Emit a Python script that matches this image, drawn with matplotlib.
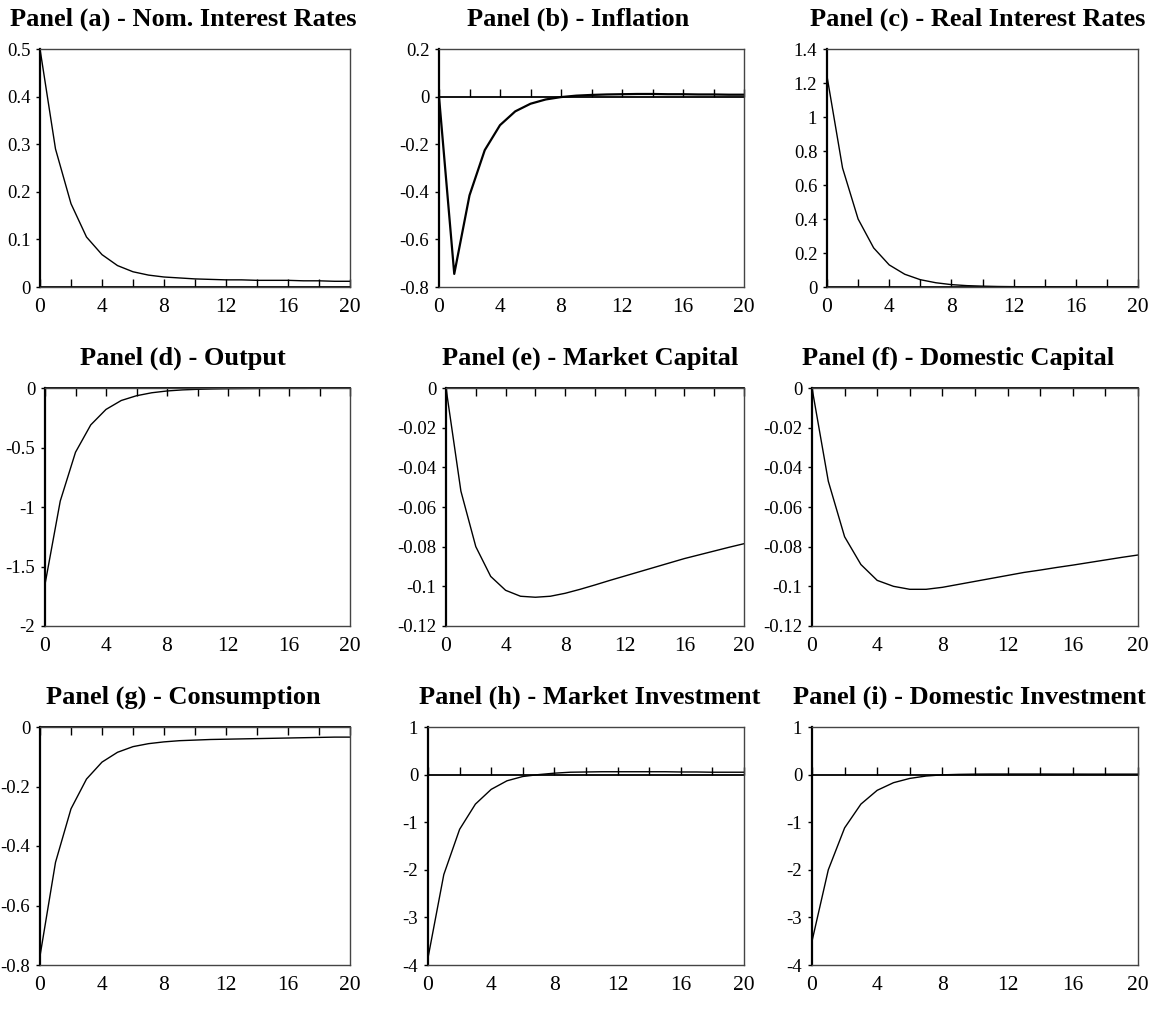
import matplotlib.pyplot as plt
from matplotlib.ticker import FuncFormatter

plt.rcParams['font.family'] = ['Liberation Serif', 'DejaVu Serif']

periods = list(range(21))

nom_rates = [0.5, 0.29, 0.175, 0.105, 0.068, 0.045, 0.032, 0.025, 0.021, 0.019, 0.017,
             0.016, 0.015, 0.015, 0.014, 0.014, 0.014, 0.013, 0.013, 0.012, 0.012]
inflation = [0.0, -0.745, -0.415, -0.225, -0.12, -0.062, -0.03, -0.012, -0.002, 0.004, 0.007,
             0.009, 0.010, 0.011, 0.011, 0.010, 0.010, 0.009, 0.009, 0.008, 0.008]
real_rates = [1.24, 0.70, 0.40, 0.23, 0.13, 0.075, 0.043, 0.025, 0.014, 0.008, 0.005,
              0.003, 0.002, 0.001, 0.001, 0.0, 0.0, 0.0, 0.0, 0.0, 0.0]
output = [-1.65, -0.95, -0.54, -0.31, -0.18, -0.105, -0.065, -0.04, -0.025, -0.016, -0.011,
          -0.008, -0.006, -0.005, -0.004, -0.003, -0.003, -0.003, -0.002, -0.002, -0.002]
market_capital = [0.0, -0.052, -0.080, -0.095, -0.102, -0.105, -0.1055, -0.105, -0.1035, -0.1015,
                  -0.0993, -0.097, -0.0948, -0.0926, -0.0904, -0.0882, -0.086, -0.0841, -0.0822,
                  -0.0803, -0.0785]
domestic_capital = [0.0, -0.047, -0.075, -0.089, -0.097, -0.100, -0.1015, -0.1015, -0.1005, -0.099,
                    -0.0975, -0.096, -0.0945, -0.093, -0.0918, -0.0905, -0.0893, -0.088, -0.0867,
                    -0.0854, -0.0842]
consumption = [-0.77, -0.455, -0.275, -0.175, -0.118, -0.085, -0.066, -0.056, -0.050, -0.046, -0.044,
               -0.042, -0.041, -0.040, -0.039, -0.038, -0.037, -0.036, -0.035, -0.034, -0.034]
market_inv = [-3.85, -2.1, -1.15, -0.62, -0.31, -0.13, -0.04, 0.0, 0.03, 0.05, 0.055,
              0.06, 0.06, 0.06, 0.06, 0.06, 0.055, 0.055, 0.05, 0.05, 0.05]
domestic_inv = [-3.5, -2.0, -1.12, -0.62, -0.33, -0.17, -0.08, -0.03, -0.005, 0.005, 0.01,
                0.012, 0.012, 0.012, 0.012, 0.011, 0.011, 0.01, 0.01, 0.01, 0.01]

titles = ['Panel (a) - Nom. Interest Rates', 'Panel (b) - Inflation', 'Panel (c) - Real Interest Rates',
          'Panel (d) - Output', 'Panel (e) - Market Capital', 'Panel (f) - Domestic Capital',
          'Panel (g) - Consumption', 'Panel (h) - Market Investment', 'Panel (i) - Domestic Investment']
series = [nom_rates, inflation, real_rates, output, market_capital, domestic_capital,
          consumption, market_inv, domestic_inv]
ylims = [(0, 0.5), (-0.8, 0.2), (0, 1.4), (-2, 0), (-0.12, 0), (-0.12, 0),
         (-0.8, 0), (-4, 1), (-4, 1)]
ysteps = [0.1, 0.2, 0.2, 0.5, 0.02, 0.02, 0.2, 1, 1]

# layout in pixels
W, H = 1163, 1009
lefts = [40, 439, 827, 45, 446, 812, 40, 428, 812]
rights = [350, 744, 1138] * 3
row_top = [49, 388, 727]
row_bot = [287, 626, 965]
title_x = [183, 578, 978, 183, 590, 958, 183, 590, 969]
title_y = [19, 358, 697]

fig = plt.figure(figsize=(W / 100, H / 100), dpi=100)

fmt = FuncFormatter(lambda v, p: f"{round(v, 6) + 0:g}")

for i in range(9):
    r = i // 3
    l, rt = lefts[i], rights[i]
    ax = fig.add_axes([l / W, 1 - row_bot[r] / H, (rt - l) / W, (row_bot[r] - row_top[r]) / H])
    ax.plot(periods, series[i], color='black', lw=1.6 if i == 1 else 1.0)
    lo, hi = ylims[i]
    ax.set_xlim(0, 20)
    ax.set_ylim(lo, hi)
    n = int(round((hi - lo) / ysteps[i]))
    ax.set_yticks([lo + k * ysteps[i] for k in range(n + 1)])
    ax.yaxis.set_major_formatter(fmt)
    ax.set_xticks(range(0, 21, 4))
    ax.tick_params(axis='x', length=0, pad=8, labelsize=15.5)
    ax.tick_params(axis='y', length=3, width=1, direction='out', pad=4, labelsize=13.5)
    for s in ['top', 'right', 'bottom']:
        ax.spines[s].set_color('#444444')
        ax.spines[s].set_linewidth(1.0)
    ax.spines['left'].set_color('black')
    ax.spines['left'].set_linewidth(1.6)

    # category axis crossing at zero, tick marks every 2 periods
    zero = ax.secondary_xaxis(0, transform=ax.transData)
    zero.set_xticks(range(0, 21, 2))
    zero.tick_params(direction='out' if hi == 0 else 'in', length=6, width=1,
                     labelbottom=False, color='black')
    zero.spines['bottom'].set_color('black')
    zero.spines['bottom'].set_linewidth(1.3)

    fig.text(title_x[i] / W, 1 - title_y[r] / H, titles[i], ha='center', va='center',
             fontsize=19, fontweight='bold')

fig.savefig('out.png', dpi=100)
